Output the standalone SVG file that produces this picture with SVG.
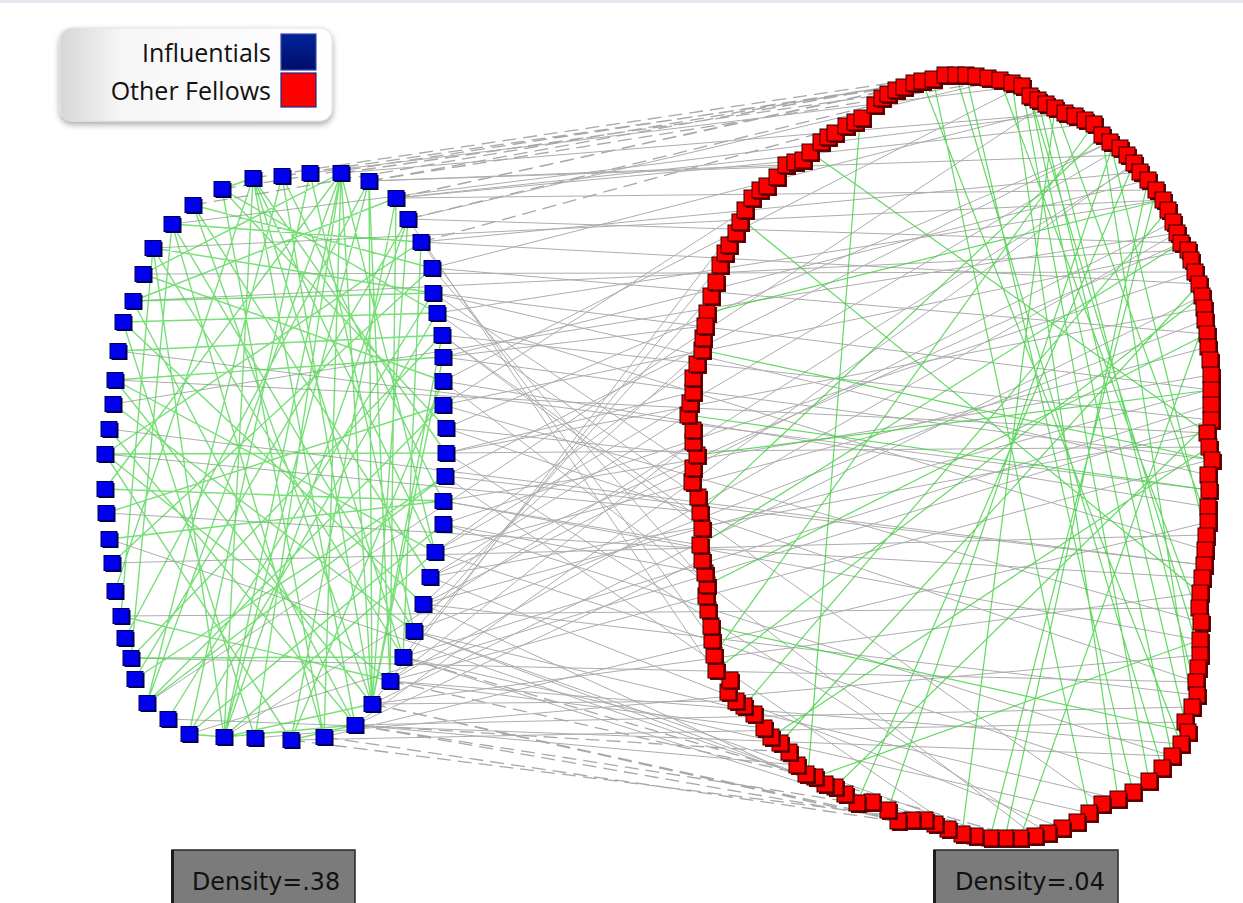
<svg xmlns="http://www.w3.org/2000/svg" xmlns:xlink="http://www.w3.org/1999/xlink" width="1243" height="903" viewBox="0 0 1243 903">
<style>
.gs{fill:none;stroke:#adadad;stroke-width:1}
.gd{fill:none;stroke:#a8a8a8;stroke-width:1.3;stroke-dasharray:14 7}
.gb{fill:none;stroke:#3fd03f;stroke-width:1.4;stroke-opacity:.7}
.gr{fill:none;stroke:#3ccf3c;stroke-width:1.2;stroke-opacity:.8}
.lt{font-family:"Open Sans","Noto Sans",sans-serif;font-size:25px;fill:#111;text-anchor:end}
.dt{font-family:"DejaVu Sans",Verdana,sans-serif;font-size:25px;fill:#111}
.db{fill:#7b7b7b;stroke:#262626;stroke-width:1.5}
</style>
<defs>
<linearGradient id="lg" x1="0" y1="0" x2="1" y2="0">
<stop offset="0" stop-color="#d6d6d6"/><stop offset="0.22" stop-color="#f6f6f6"/><stop offset="1" stop-color="#ffffff"/>
</linearGradient>
<linearGradient id="bl" x1="0" y1="0" x2="0" y2="1">
<stop offset="0" stop-color="#00239a"/><stop offset="1" stop-color="#000e6a"/>
</linearGradient>
<filter id="sh" x="-10%" y="-10%" width="120%" height="130%"><feDropShadow dx="0" dy="3" stdDeviation="3" flood-color="#000" flood-opacity="0.35"/></filter>
<g id="rsq"><rect x="-6" y="-6" width="16" height="16" fill="#6a0000"/><rect x="-8" y="-8" width="16" height="16" fill="#ff0000" stroke="#2a0000" stroke-width="1"/></g>
<g id="bsq"><rect x="-6.5" y="-6" width="16" height="15" fill="#00004a"/><rect x="-8" y="-7.5" width="16" height="15" fill="#0000ee" stroke="#000060" stroke-width="1"/></g>
</defs>
<rect width="1243" height="903" fill="#ffffff"/>
<rect x="0" y="0" width="1243" height="3" fill="#e4e8ee"/>

<g id="connectors">
<path class="gs" d="M369 181L1127 155M396 198L1092 124M396 198L1156 190M408 219L1181 243M408 219L1000 80M421 242L1199 284M421 242L1140 172M432 268L1207 334M432 268L1055 108M433 293L1211 390M433 293L1208 475M437 313L1163 200M437 313L1205 550M442 335L1211 420M442 335L1102 804M443 357L1212 460M443 357L1148 180M443 381L1208 507M443 381L1035 836M443 405L1201 622M443 405L1188 250M446 428L697 455M446 428L1196 682M446 453L1209 447M446 453L1048 833M445 476L1204 565M445 476L1110 142M443 501L1200 640M443 501L1211 375M443 524L1172 756M443 524L1195 272M435 552L1208 347M435 552L1149 781M430 577L1207 433M430 577L1062 828M423 604L1173 222M423 604L1197 695M414 631L1205 320M414 631L1118 799M403 657L1211 405M403 657L1089 813M390 681L1177 233M390 681L1181 744M372 704L1202 296M372 704L1200 593M355 725L1134 163M355 725L1192 707M341 173L1065 113M310 173L1022 86M118 351L1209 490M105 454L700 512M106 513L1203 578M109 539L980 836M112 563L1205 535M121 616L1199 608M131 658L1196 682M147 703L1046 104M168 719L1172 756M189 734L1211 420M224 737L1130 168M255 738L1200 655M291 740L1185 722M324 737L1208 522M133 301L1188 250M143 274L1195 272M172 224L1066 113M153 248L1163 200M443 357L705 326M446 453L693 392M443 501L700 545M435 552L697 364M430 577L688 415M423 604L702 350M414 631L711 296M403 657L720 265M390 681L693 442M372 704L740 222M355 725L702 560M372 704L736 701M355 725L797 765M390 681L764 728M403 657L888 810M414 631L935 824M423 604L857 803M443 405L745 210M442 335L702 528M437 313L698 497M433 293L693 468M432 268L707 585M421 242L712 640M408 219L728 692M396 198L803 160M369 181L786 165M443 381L1022 86M446 428L1111 142M445 476L962 834M115 380L1207 433M109 429L1204 565M113 404L1177 233M446 453L1204 308M443 524L705 573M435 552L1120 148M430 577L1181 243M423 604L1208 390M414 631L1000 838M390 681L1209 460"/>
<path class="gd" d="M369 181L933 79M396 198L904 87M341 173L888 94M396 198L956 75M408 219L875 105M369 181L1000 80M421 242L846 126M282 176L976 76M253 178L945 75M222 189L914 83M193 205L933 79M355 725L857 803M372 704L898 821M324 737L948 829M355 725L1005 838M390 681L815 777M372 704L975 836M403 657L1020 838M355 725L789 752M291 740L925 820"/>
<path class="gb" d="M341 173L224 737M341 173L255 738M341 173L147 703M341 173L105 489M341 173L143 274M341 173L372 704M341 173L435 552M341 173L324 737M253 178L224 737M253 178L355 725M253 178L435 552M253 178L446 453M253 178L115 591M253 178L403 657M222 189L324 737M222 189L446 428M222 189L437 313M282 176L147 703M282 176L372 704M282 176L443 501M310 173L189 734M310 173L414 631M369 181L372 704M369 181L224 737M369 181L125 638M369 181L390 681M396 198L133 301M396 198L291 740M408 219L224 737M408 219L135 679M421 242L172 224M421 242L105 454M432 268L193 205M432 268L112 563M433 293L153 248M433 293L168 719M433 293L133 301M437 313L123 322M442 335L118 351M442 335L131 658M443 357L115 380M443 357L372 704M443 381L143 274M443 381L291 740M443 405L106 513M446 453L105 454M445 476L147 703M443 501L109 539M443 501L105 489M443 524L189 734M435 552L115 380M435 552L224 737M430 577L193 205M423 604L123 322M414 631L113 404M414 631L172 224M403 657L153 248M403 657L131 658M390 681L105 454M372 704L193 205M372 704L115 380M372 704L224 737M355 725L133 301M355 725L109 429M324 737L172 224M291 740L105 454M255 738L123 322M224 737L153 248M189 734L437 313M147 703L443 405M135 679L445 476M121 616L390 681M224 737L355 725M291 740L355 725M189 734L224 737M396 198L390 681M408 219L372 704M421 242L403 657M442 335L372 704M153 248L121 616M172 224L131 658M222 189L253 178"/>
<path class="gr" d="M956 75L1162 768M966 75L1133 792M1000 80L1201 622M1030 96L1200 655M1038 100L1185 722M1046 104L1197 695M1055 108L1208 522M1110 142L1206 536M1102 135L1192 707M933 79L1089 813M860 122L808 775M810 152L1207 433M745 222L1200 593M707 313L1163 200M702 350L1212 460M697 455L1211 390M688 415L1209 490M700 512L1102 135M700 545L1181 243M707 585L1207 334M711 626L1188 732M714 655L1094 124M716 670L1202 296M780 743L1199 284M857 803L1134 163M888 810L1112 148M990 838L1156 190M1005 838L1148 180M1020 838L1205 320M962 834L1055 108M1118 799L1012 83M1149 781L1022 86M1172 756L1030 96M835 787L1211 420M815 777L1200 640M771 737L1209 447M744 706L1168 210M922 81L1181 744"/>
</g>

<g id="blue-nodes">
<use id="b1" href="#bsq" x="222" y="189"/><use id="b2" href="#bsq" x="253" y="178"/><use id="b3" href="#bsq" x="282" y="176"/><use id="b4" href="#bsq" x="310" y="173"/><use id="b5" href="#bsq" x="341" y="173"/><use id="b6" href="#bsq" x="369" y="181"/><use id="b7" href="#bsq" x="396" y="198"/><use id="b8" href="#bsq" x="408" y="219"/><use id="b9" href="#bsq" x="421" y="242"/><use id="b10" href="#bsq" x="432" y="268"/><use id="b11" href="#bsq" x="433" y="293"/><use id="b12" href="#bsq" x="437" y="313"/><use id="b13" href="#bsq" x="442" y="335"/><use id="b14" href="#bsq" x="443" y="357"/><use id="b15" href="#bsq" x="443" y="381"/><use id="b16" href="#bsq" x="443" y="405"/><use id="b17" href="#bsq" x="446" y="428"/><use id="b18" href="#bsq" x="446" y="453"/><use id="b19" href="#bsq" x="445" y="476"/><use id="b20" href="#bsq" x="443" y="501"/><use id="b21" href="#bsq" x="443" y="524"/><use id="b22" href="#bsq" x="435" y="552"/><use id="b23" href="#bsq" x="430" y="577"/><use id="b24" href="#bsq" x="423" y="604"/><use id="b25" href="#bsq" x="414" y="631"/><use id="b26" href="#bsq" x="403" y="657"/><use id="b27" href="#bsq" x="390" y="681"/><use id="b28" href="#bsq" x="372" y="704"/><use id="b29" href="#bsq" x="355" y="725"/><use id="b30" href="#bsq" x="324" y="737"/><use id="b31" href="#bsq" x="291" y="740"/><use id="b32" href="#bsq" x="255" y="738"/><use id="b33" href="#bsq" x="224" y="737"/><use id="b34" href="#bsq" x="189" y="734"/><use id="b35" href="#bsq" x="168" y="719"/><use id="b36" href="#bsq" x="147" y="703"/><use id="b37" href="#bsq" x="135" y="679"/><use id="b38" href="#bsq" x="131" y="658"/><use id="b39" href="#bsq" x="125" y="638"/><use id="b40" href="#bsq" x="121" y="616"/><use id="b41" href="#bsq" x="115" y="591"/><use id="b42" href="#bsq" x="112" y="563"/><use id="b43" href="#bsq" x="109" y="539"/><use id="b44" href="#bsq" x="106" y="513"/><use id="b45" href="#bsq" x="105" y="489"/><use id="b46" href="#bsq" x="105" y="454"/><use id="b47" href="#bsq" x="109" y="429"/><use id="b48" href="#bsq" x="113" y="404"/><use id="b49" href="#bsq" x="115" y="380"/><use id="b50" href="#bsq" x="118" y="351"/><use id="b51" href="#bsq" x="123" y="322"/><use id="b52" href="#bsq" x="133" y="301"/><use id="b53" href="#bsq" x="143" y="274"/><use id="b54" href="#bsq" x="153" y="248"/><use id="b55" href="#bsq" x="172" y="224"/><use id="b56" href="#bsq" x="193" y="205"/>
</g>

<g id="red-nodes">
<use id="r1" href="#rsq" x="707" y="313"/><use id="r2" href="#rsq" x="711" y="296"/><use id="r3" href="#rsq" x="716" y="282"/><use id="r4" href="#rsq" x="720" y="265"/><use id="r5" href="#rsq" x="725" y="253"/><use id="r6" href="#rsq" x="729" y="245"/><use id="r7" href="#rsq" x="736" y="233"/><use id="r8" href="#rsq" x="740" y="222"/><use id="r9" href="#rsq" x="745" y="210"/><use id="r10" href="#rsq" x="752" y="198"/><use id="r11" href="#rsq" x="760" y="190"/><use id="r12" href="#rsq" x="767" y="186"/><use id="r13" href="#rsq" x="777" y="177"/><use id="r14" href="#rsq" x="786" y="165"/><use id="r15" href="#rsq" x="795" y="162"/><use id="r16" href="#rsq" x="803" y="160"/><use id="r17" href="#rsq" x="810" y="152"/><use id="r18" href="#rsq" x="821" y="142"/><use id="r19" href="#rsq" x="828" y="137"/><use id="r20" href="#rsq" x="835" y="133"/><use id="r21" href="#rsq" x="846" y="126"/><use id="r22" href="#rsq" x="855" y="122"/><use id="r23" href="#rsq" x="862" y="118"/><use id="r24" href="#rsq" x="875" y="105"/><use id="r25" href="#rsq" x="882" y="98"/><use id="r26" href="#rsq" x="888" y="94"/><use id="r27" href="#rsq" x="896" y="90"/><use id="r28" href="#rsq" x="904" y="87"/><use id="r29" href="#rsq" x="914" y="83"/><use id="r30" href="#rsq" x="922" y="81"/><use id="r31" href="#rsq" x="933" y="79"/><use id="r32" href="#rsq" x="945" y="75"/><use id="r33" href="#rsq" x="956" y="75"/><use id="r34" href="#rsq" x="966" y="75"/><use id="r35" href="#rsq" x="976" y="76"/><use id="r36" href="#rsq" x="988" y="78"/><use id="r37" href="#rsq" x="1000" y="80"/><use id="r38" href="#rsq" x="1012" y="83"/><use id="r39" href="#rsq" x="1022" y="86"/><use id="r40" href="#rsq" x="1030" y="96"/><use id="r41" href="#rsq" x="1038" y="100"/><use id="r42" href="#rsq" x="1046" y="104"/><use id="r43" href="#rsq" x="1055" y="108"/><use id="r44" href="#rsq" x="1065" y="113"/><use id="r45" href="#rsq" x="1075" y="116"/><use id="r46" href="#rsq" x="1085" y="120"/><use id="r47" href="#rsq" x="1094" y="124"/><use id="r48" href="#rsq" x="1102" y="135"/><use id="r49" href="#rsq" x="1110" y="142"/><use id="r50" href="#rsq" x="1120" y="148"/><use id="r51" href="#rsq" x="1127" y="155"/><use id="r52" href="#rsq" x="1134" y="163"/><use id="r53" href="#rsq" x="1140" y="172"/><use id="r54" href="#rsq" x="1148" y="180"/><use id="r55" href="#rsq" x="1156" y="190"/><use id="r56" href="#rsq" x="1163" y="200"/><use id="r57" href="#rsq" x="1168" y="210"/><use id="r58" href="#rsq" x="1173" y="222"/><use id="r59" href="#rsq" x="1177" y="233"/><use id="r60" href="#rsq" x="1181" y="243"/><use id="r61" href="#rsq" x="1188" y="250"/><use id="r62" href="#rsq" x="1191" y="260"/><use id="r63" href="#rsq" x="1195" y="272"/><use id="r64" href="#rsq" x="1199" y="284"/><use id="r65" href="#rsq" x="1202" y="296"/><use id="r66" href="#rsq" x="1204" y="308"/><use id="r67" href="#rsq" x="1205" y="320"/><use id="r68" href="#rsq" x="1207" y="334"/><use id="r69" href="#rsq" x="1208" y="347"/><use id="r70" href="#rsq" x="1210" y="360"/><use id="r71" href="#rsq" x="1211" y="375"/><use id="r72" href="#rsq" x="1211" y="390"/><use id="r73" href="#rsq" x="1211" y="405"/><use id="r74" href="#rsq" x="1211" y="420"/><use id="r75" href="#rsq" x="1207" y="433"/><use id="r76" href="#rsq" x="1209" y="447"/><use id="r77" href="#rsq" x="1212" y="460"/><use id="r78" href="#rsq" x="1208" y="475"/><use id="r79" href="#rsq" x="1209" y="490"/><use id="r80" href="#rsq" x="1208" y="507"/><use id="r81" href="#rsq" x="1208" y="522"/><use id="r82" href="#rsq" x="1206" y="536"/><use id="r83" href="#rsq" x="1205" y="550"/><use id="r84" href="#rsq" x="1204" y="565"/><use id="r85" href="#rsq" x="1202" y="578"/><use id="r86" href="#rsq" x="1200" y="593"/><use id="r87" href="#rsq" x="1199" y="608"/><use id="r88" href="#rsq" x="1201" y="622"/><use id="r89" href="#rsq" x="1200" y="640"/><use id="r90" href="#rsq" x="1200" y="655"/><use id="r91" href="#rsq" x="1198" y="668"/><use id="r92" href="#rsq" x="1196" y="682"/><use id="r93" href="#rsq" x="1197" y="695"/><use id="r94" href="#rsq" x="1192" y="707"/><use id="r95" href="#rsq" x="1185" y="722"/><use id="r96" href="#rsq" x="1188" y="732"/><use id="r97" href="#rsq" x="1181" y="744"/><use id="r98" href="#rsq" x="1172" y="756"/><use id="r99" href="#rsq" x="1162" y="768"/><use id="r100" href="#rsq" x="1149" y="781"/><use id="r101" href="#rsq" x="1133" y="792"/><use id="r102" href="#rsq" x="1118" y="799"/><use id="r103" href="#rsq" x="1102" y="804"/><use id="r104" href="#rsq" x="1089" y="813"/><use id="r105" href="#rsq" x="1077" y="822"/><use id="r106" href="#rsq" x="1062" y="828"/><use id="r107" href="#rsq" x="1048" y="833"/><use id="r108" href="#rsq" x="1035" y="836"/><use id="r109" href="#rsq" x="1020" y="838"/><use id="r110" href="#rsq" x="1005" y="838"/><use id="r111" href="#rsq" x="990" y="838"/><use id="r112" href="#rsq" x="975" y="836"/><use id="r113" href="#rsq" x="962" y="834"/><use id="r114" href="#rsq" x="948" y="829"/><use id="r115" href="#rsq" x="935" y="824"/><use id="r116" href="#rsq" x="925" y="820"/><use id="r117" href="#rsq" x="912" y="820"/><use id="r118" href="#rsq" x="898" y="821"/><use id="r119" href="#rsq" x="888" y="810"/><use id="r120" href="#rsq" x="872" y="802"/><use id="r121" href="#rsq" x="857" y="803"/><use id="r122" href="#rsq" x="845" y="794"/><use id="r123" href="#rsq" x="835" y="787"/><use id="r124" href="#rsq" x="825" y="784"/><use id="r125" href="#rsq" x="815" y="777"/><use id="r126" href="#rsq" x="806" y="774"/><use id="r127" href="#rsq" x="797" y="765"/><use id="r128" href="#rsq" x="789" y="752"/><use id="r129" href="#rsq" x="780" y="743"/><use id="r130" href="#rsq" x="771" y="737"/><use id="r131" href="#rsq" x="764" y="728"/><use id="r132" href="#rsq" x="754" y="714"/><use id="r133" href="#rsq" x="744" y="706"/><use id="r134" href="#rsq" x="736" y="701"/><use id="r135" href="#rsq" x="728" y="692"/><use id="r136" href="#rsq" x="730" y="680"/><use id="r137" href="#rsq" x="716" y="670"/><use id="r138" href="#rsq" x="714" y="655"/><use id="r139" href="#rsq" x="712" y="640"/><use id="r140" href="#rsq" x="711" y="626"/><use id="r141" href="#rsq" x="708" y="610"/><use id="r142" href="#rsq" x="706" y="596"/><use id="r143" href="#rsq" x="707" y="585"/><use id="r144" href="#rsq" x="705" y="573"/><use id="r145" href="#rsq" x="702" y="560"/><use id="r146" href="#rsq" x="700" y="545"/><use id="r147" href="#rsq" x="702" y="528"/><use id="r148" href="#rsq" x="700" y="512"/><use id="r149" href="#rsq" x="698" y="497"/><use id="r150" href="#rsq" x="692" y="482"/><use id="r151" href="#rsq" x="693" y="468"/><use id="r152" href="#rsq" x="697" y="455"/><use id="r153" href="#rsq" x="693" y="442"/><use id="r154" href="#rsq" x="693" y="430"/><use id="r155" href="#rsq" x="688" y="415"/><use id="r156" href="#rsq" x="690" y="403"/><use id="r157" href="#rsq" x="693" y="392"/><use id="r158" href="#rsq" x="693" y="378"/><use id="r159" href="#rsq" x="697" y="364"/><use id="r160" href="#rsq" x="702" y="350"/><use id="r161" href="#rsq" x="703" y="338"/><use id="r162" href="#rsq" x="705" y="326"/>
</g>

<g id="legend">
<rect x="60" y="28" width="272" height="93" rx="12" fill="url(#lg)" stroke="#e2e2e2" stroke-width="1" filter="url(#sh)"/>
<text class="lt" x="271" y="62">Influentials</text>
<text class="lt" x="271" y="100">Other Fellows</text>
<rect x="281" y="34" width="35" height="36" fill="url(#bl)" stroke="#3a4aa8" stroke-width="1.2"/>
<rect x="281" y="73" width="35" height="34" fill="#ff0000" stroke="#1c2a8c" stroke-width="1.2"/>
</g>

<g id="density-left">
<rect class="db" x="172" y="850" width="183" height="60"/>
<rect x="171" y="850" width="3" height="55" fill="#1a1a1a"/>
<text class="dt" x="192" y="890" textLength="148" lengthAdjust="spacingAndGlyphs">Density=.38</text>
</g>
<g id="density-right">
<rect class="db" x="934" y="850" width="184" height="60"/>
<rect x="933" y="850" width="3" height="55" fill="#1a1a1a"/>
<text class="dt" x="955" y="890" textLength="150" lengthAdjust="spacingAndGlyphs">Density=.04</text>
</g>
</svg>
